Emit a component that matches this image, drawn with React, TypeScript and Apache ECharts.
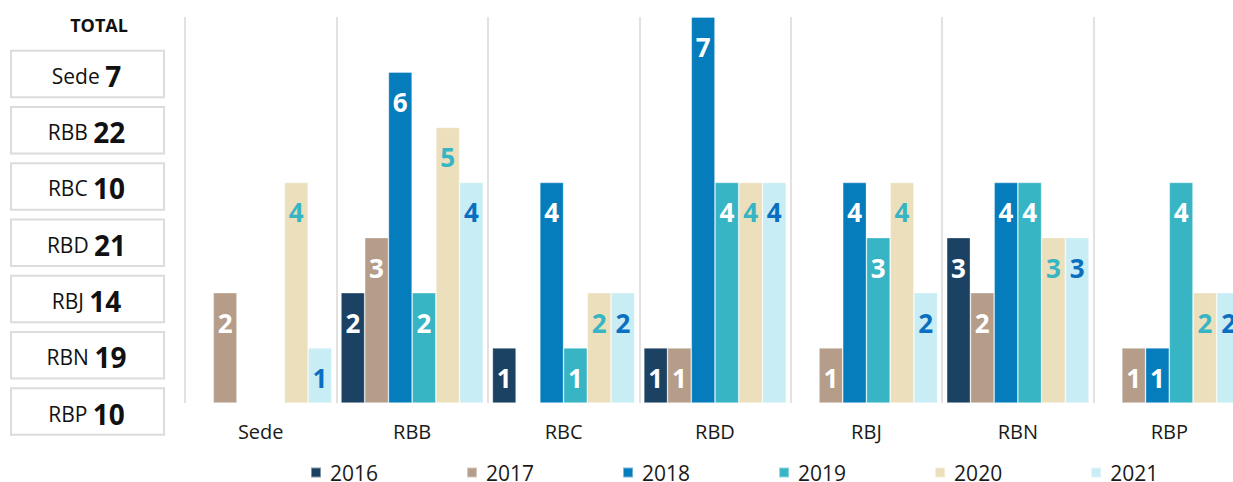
import React, { useEffect, useRef } from 'react';
import * as echarts from 'echarts';

const categories = ['Sede', 'RBB', 'RBC', 'RBD', 'RBJ', 'RBN', 'RBP'];
const years = ['2016', '2017', '2018', '2019', '2020', '2021'];
const v2016 = [0, 2, 1, 1, 0, 3, 0];
const v2017 = [2, 3, 0, 1, 1, 2, 1];
const v2018 = [0, 6, 4, 7, 4, 4, 1];
const v2019 = [0, 2, 1, 4, 3, 4, 4];
const v2020 = [4, 5, 2, 4, 4, 3, 2];
const v2021 = [1, 4, 2, 4, 2, 3, 2];
const seriesValues = [v2016, v2017, v2018, v2019, v2020, v2021];

const colors = ['#1B4262', '#B59D8A', '#057CBC', '#37B5C4', '#ECDFBC', '#C9EDF5'];
const labelColors = ['#FFFFFF', '#FFFFFF', '#FFFFFF', '#FFFFFF', '#37B5C4', '#0A6FC0'];

const FONT = "'Open Sans', 'Noto Sans', sans-serif";

export default function App() {
  const ref = useRef<HTMLDivElement>(null);

  useEffect(() => {
    if (!ref.current) return;
    const chart = echarts.init(ref.current, undefined, { renderer: 'svg' });

    const totals = categories.map((_, i) => seriesValues.reduce((s, arr) => s + arr[i], 0));

    const boxTop = 50.7;
    const boxPitch = 56.27;
    const boxH = 46.5;
    const graphics: any[] = [
      {
        type: 'text',
        x: 99,
        y: 25,
        style: {
          text: 'TOTAL',
          fontSize: 18,
          fontWeight: 'bold',
          fontFamily: FONT,
          fill: '#111111',
          align: 'center',
          verticalAlign: 'middle',
        },
      },
    ];
    categories.forEach((c, i) => {
      const y = boxTop + i * boxPitch;
      graphics.push({
        type: 'rect',
        shape: { x: 11, y, width: 153, height: boxH },
        style: { fill: '#FFFFFF', stroke: '#DCDCDC', lineWidth: 2 },
      });
      graphics.push({
        type: 'text',
        x: 86.5,
        y: y + boxH / 2 + 2,
        style: {
          text: `{a|${c}\u00A0}{b|${totals[i]}}`,
          align: 'center',
          verticalAlign: 'middle',
          rich: {
            a: { fontSize: 21, fontFamily: FONT, fill: '#111111', color: '#111111' },
            b: { fontSize: 28, fontWeight: 'bold', fontFamily: FONT, fill: '#111111', color: '#111111' },
          },
        },
      });
    });

    chart.setOption({
      animation: false,
      textStyle: { fontFamily: FONT },
      grid: { left: 185, right: 15, top: 17, bottom: 79, containLabel: false },
      legend: {
        data: years,
        left: 310,
        top: 462,
        padding: 0,
        icon: 'rect',
        itemWidth: 10,
        itemHeight: 10,
        itemGap: 88,
        textStyle: { fontSize: 21, color: '#1A1A1A', fontFamily: FONT, padding: [0, 0, 0, 4], lineHeight: 20 },
      },
      xAxis: {
        type: 'category',
        data: categories,
        axisLine: { show: false },
        axisTick: { show: false },
        splitLine: { show: true, interval: 0, lineStyle: { color: '#D9D9D9', width: 1.5 } },
        axisLabel: { fontSize: 20, color: '#1A1A1A', margin: 18, fontFamily: FONT, interval: 0 },
      },
      yAxis: { type: 'value', min: 0, max: 7, show: false, splitLine: { show: false } },
      series: years.map((y, si) => ({
        name: y,
        type: 'bar',
        barGap: '0%',
        barCategoryGap: '6%',
        data: seriesValues[si].map((v) => (v === 0 ? null : v)),
        itemStyle: { color: colors[si], borderColor: 'rgba(255,255,255,0.45)', borderWidth: 0.75 },
        label: {
          show: true,
          position: 'insideTop',
          distance: 17,
          fontSize: 26,
          fontWeight: 'bold',
          fontFamily: FONT,
          color: labelColors[si],
        },
      })),
      graphic: graphics,
    });

    return () => chart.dispose();
  }, []);

  return (
    <div style={{ position: 'fixed', left: 0, top: 0, width: 1233, height: 482, overflow: 'hidden', background: '#fff' }}>
      <div ref={ref} style={{ width: 1260, height: 482 }} />
    </div>
  );
}
